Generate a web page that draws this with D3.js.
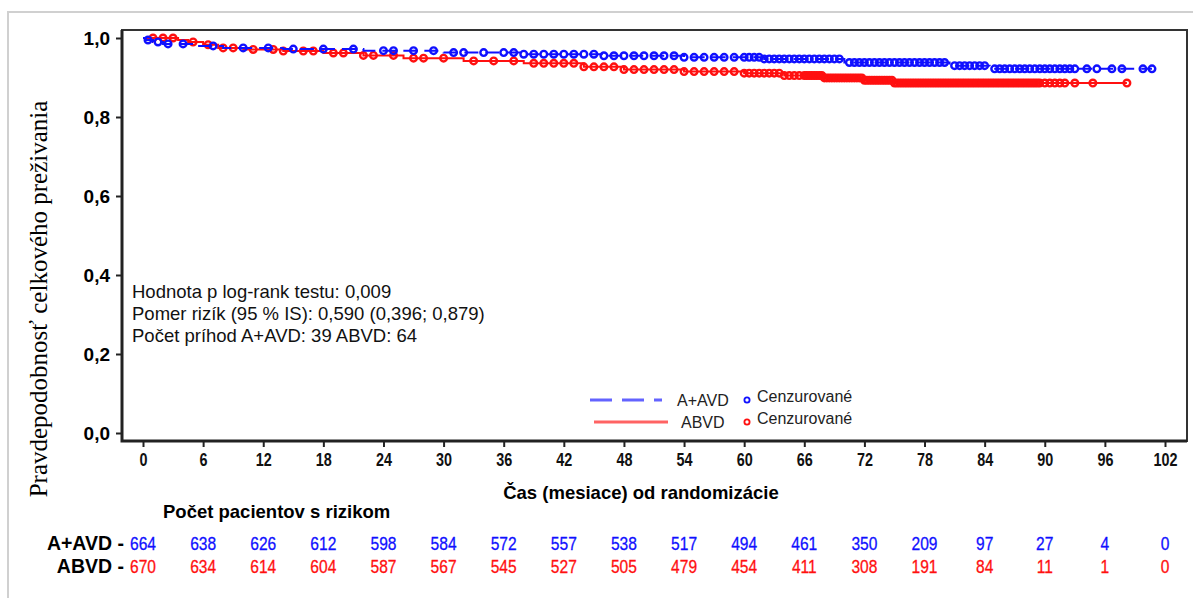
<!DOCTYPE html>
<html>
<head>
<meta charset="utf-8">
<script src="https://cdn.jsdelivr.net/npm/d3@7"></script>
<style>
  body { margin: 0; background: #fff; }
  svg { display: block; }
  text { font-family: Arial, "Liberation Sans", sans-serif; }
</style>
</head>
<body>
<div id="chart"></div>
<script>
// tick values
const xTicks = [0, 6, 12, 18, 24, 30, 36, 42, 48, 54, 60, 66, 72, 78, 84, 90, 96, 102];
const yTicks = [0, 0.2, 0.4, 0.6, 0.8, 1.0];

// KM step points [month, survival]
const aavdSteps = [[0, 1.0], [0.3, 0.995], [1, 0.99], [2, 0.985], [5, 0.98], [8, 0.975], [14, 0.972],
    [22, 0.968], [30, 0.963], [38, 0.959], [46, 0.955], [54, 0.951], [62, 0.947], [70, 0.938],
    [80.5, 0.93], [84.5, 0.922], [100.7, 0.922]];
const abvdSteps = [[0, 1.0], [3.5, 0.995], [4.5, 0.99], [6, 0.983], [7.5, 0.975], [10, 0.971], [14, 0.967],
    [18, 0.962], [22, 0.956], [26, 0.949], [32, 0.942], [38, 0.936], [44, 0.927], [48, 0.92],
    [54, 0.915], [60, 0.911], [64, 0.905], [68, 0.899], [72, 0.893], [75, 0.886], [98.2, 0.886]];

// censored times (months)
const aavdCensor = [0.5, 1.5, 2.5, 4, 7, 10, 12.5, 15, 18, 21, 24, 25, 27, 29, 31, 32, 34, 36, 37, 38,
    39, 40, 41, 42, 43, 44, 45, 46, 47, 48, 49, 50, 51, 52, 53, 54, 55, 56, 57, 58, 59, 60, 60.5,
    61, 61.5, 62, 62.5, 63, 63.5, 64, 64.5, 65, 65.5, 66, 66.5, 67, 67.5, 68, 68.5, 69, 69.5, 70.5,
    71, 71.5, 72, 72.5, 73, 73.5, 74, 74.5, 75, 75.5, 76, 76.5, 77, 77.5, 78, 78.5, 79, 79.5, 80,
    81, 81.5, 82, 82.5, 83, 83.5, 84, 85, 85.5, 86, 86.5, 87, 87.5, 88, 88.5, 89, 89.5, 90, 90.5,
    91, 91.5, 92, 92.5, 93, 94.2, 95.2, 96.7, 97.7, 99.8, 100.7];
const abvdCensor = [1, 2, 3, 5, 6.5, 8, 9, 11, 13, 14, 16, 17, 19, 20, 22, 23, 25, 27, 28, 30, 33, 35,
    37, 39, 40, 41, 42, 43, 44, 45, 46, 47, 48, 49, 50, 51, 52, 53, 54, 55, 56, 57, 58, 59, 60,
    60.5, 61, 61.5, 62, 62.5, 63, 63.5, 64, 64.5, 65, 65.5, 66, 66.5, 67, 67.5, 68, 68.5, 69, 69.5,
    70, 70.5, 71, 71.5, 72, 72.5, 73, 73.5, 74, 74.5, 75, 75.5, 76, 76.5, 77, 77.5, 78, 78.5, 79,
    79.5, 80, 80.5, 81, 81.5, 82, 82.5, 83, 83.5, 84, 84.5, 85, 85.5, 86, 86.5, 87, 87.5, 88, 88.5,
    89, 89.5, 90, 90.5, 91, 91.5, 92, 93, 94.8, 98.2,
    66.25, 66.75, 67.25, 67.75, 68.25, 68.75, 69.25, 69.75, 70.25, 70.75, 71.25, 71.75, 72.25,
    72.75, 73.25, 73.75, 74.25, 74.75, 75.25, 75.75, 76.25, 76.75, 77.25, 77.75, 78.25, 78.75,
    79.25, 79.75, 80.25, 80.75, 81.25, 81.75, 82.25, 82.75, 83.25, 83.75, 84.25, 84.75, 85.25,
    85.75, 86.25, 86.75, 87.25, 87.75, 88.25, 88.75, 89.25];

// numbers at risk
const riskAavd = [664, 638, 626, 612, 598, 584, 572, 557, 538, 517, 494, 461, 350, 209, 97, 27, 4, 0];
const riskAbvd = [670, 634, 614, 604, 587, 567, 545, 527, 505, 479, 454, 411, 308, 191, 84, 11, 1, 0];

const statLines = [
    'Hodnota p log-rank testu: 0,009',
    'Pomer rizík (95 % IS): 0,590 (0,396; 0,879)',
    'Počet príhod A+AVD: 39 ABVD: 64'
];

const BLUE = '#1010ff';
const RED = '#ff1010';

const W = 1193, H = 598;
const svg = d3.select('#chart').append('svg').attr('width', W).attr('height', H);

// outer light frame
svg.append('path')
    .attr('d', `M8,${H} L8,12 L${W},12`)
    .attr('fill', 'none').attr('stroke', '#d0d0d0').attr('stroke-width', 2);

const x = d3.scaleLinear().domain([0, 102]).range([143, 1165]);
const y = d3.scaleLinear().domain([0, 1]).range([433, 38]);

const frame = {left: 122, top: 30, right: 1187, bottom: 441};

// plot frame
svg.append('rect')
    .attr('x', frame.left).attr('y', frame.top)
    .attr('width', frame.right - frame.left).attr('height', frame.bottom - frame.top)
    .attr('fill', 'none').attr('stroke', '#333').attr('stroke-width', 2);
svg.append('path')
    .attr('d', `M${frame.left},${frame.top} V${frame.bottom} H${frame.right}`)
    .attr('fill', 'none').attr('stroke', '#222').attr('stroke-width', 3);

// y axis
const yAxis = svg.append('g').attr('transform', `translate(${frame.left},0)`)
    .call(d3.axisLeft(y).tickValues(yTicks).tickSize(6).tickPadding(6)
        .tickFormat(d => d3.format('.1f')(d).replace('.', ',')));
yAxis.select('.domain').remove();
yAxis.selectAll('line').attr('stroke', '#222').attr('stroke-width', 2);
yAxis.selectAll('text').attr('font-size', 19).attr('font-weight', 'bold')
    .attr('fill', '#000').style('font-family', 'Arial, "Liberation Sans", sans-serif');

// x axis
const xAxis = svg.append('g').attr('transform', `translate(0,${frame.bottom})`)
    .call(d3.axisBottom(x).tickValues(xTicks).tickSize(6).tickPadding(6));
xAxis.select('.domain').remove();
xAxis.selectAll('line').attr('stroke', '#222').attr('stroke-width', 2);
xAxis.selectAll('text').attr('font-size', 18).attr('fill', '#111')
    .attr('font-weight', 'bold')
    .attr('transform', 'scale(0.8,1)')
    .style('font-family', 'Arial, "Liberation Sans", sans-serif');

// axis titles
svg.append('text')
    .attr('transform', 'translate(47,299) rotate(-90)')
    .attr('text-anchor', 'middle')
    .style('font-family', '"Liberation Serif", "Times New Roman", serif')
    .attr('font-size', 25)
    .text('Pravdepodobnosť celkového preživania');
svg.append('text')
    .attr('x', 641).attr('y', 499).attr('text-anchor', 'middle')
    .attr('font-size', 18.5).attr('font-weight', 'bold')
    .text('Čas (mesiace) od randomizácie');

// KM curves
const line = d3.line().x(d => x(d[0])).y(d => y(d[1])).curve(d3.curveStepAfter);
function survAt(steps, t) {
    const i = d3.bisector(d => d[0]).right(steps, t) - 1;
    return steps[Math.max(0, i)][1];
}

function drawArm(steps, censor, color, dash) {
    svg.append('path')
        .attr('d', line(steps))
        .attr('fill', 'none').attr('stroke', color).attr('stroke-width', 2)
        .attr('stroke-dasharray', dash);
    svg.append('g').selectAll('circle').data(censor).join('circle')
        .attr('cx', d => x(d)).attr('cy', d => y(survAt(steps, d)))
        .attr('r', 3.3)
        .attr('fill', 'none').attr('stroke', color).attr('stroke-width', 2.4);
}
drawArm(abvdSteps, abvdCensor, RED, null);
drawArm(aavdSteps, aavdCensor, BLUE, '14,7');

// statistics text
svg.append('g').selectAll('text').data(statLines).join('text')
    .attr('x', 132).attr('y', (d, i) => 298 + i * 22)
    .attr('font-size', 18.5).attr('fill', '#111')
    .text(d => d);

// legend
const legend = [
    {name: 'A+AVD', color: BLUE, dash: '22,10', y: 400, tx: 677},
    {name: 'ABVD', color: RED, dash: null, y: 422, tx: 681}
];
const lg = svg.append('g').selectAll('g').data(legend).join('g');
lg.append('line')
    .attr('x1', d => d.dash ? 590 : 594).attr('x2', d => d.dash ? 662 : 668)
    .attr('y1', d => d.y).attr('y2', d => d.y)
    .attr('stroke', d => d.color).attr('stroke-opacity', 0.65).attr('stroke-width', 3)
    .attr('stroke-dasharray', d => d.dash);
lg.append('text')
    .attr('x', d => d.tx).attr('y', d => d.y + 6)
    .attr('font-size', 16).attr('fill', '#222')
    .text(d => d.name);
lg.append('circle')
    .attr('cx', 747).attr('cy', d => d.y)
    .attr('r', 2.6).attr('fill', 'none')
    .attr('stroke', d => d.color).attr('stroke-width', 1.8);
lg.append('text')
    .attr('x', 757).attr('y', d => d.y + 2)
    .attr('font-size', 16).attr('fill', '#222')
    .text('Cenzurované');

// numbers at risk table
svg.append('text')
    .attr('x', 163).attr('y', 518)
    .attr('font-size', 18.5).attr('font-weight', 'bold')
    .text('Počet pacientov s rizikom');

const rows = [
    {label: 'A+AVD -', vals: riskAavd, color: BLUE, y: 550},
    {label: 'ABVD -', vals: riskAbvd, color: RED, y: 573}
];
rows.forEach(r => {
    svg.append('text')
        .attr('x', 124).attr('y', r.y).attr('text-anchor', 'end')
        .attr('font-size', 19.5).attr('font-weight', 'bold')
        .text(r.label);
    svg.append('g').selectAll('text').data(r.vals).join('text')
        .attr('transform', (d, i) => `translate(${x(xTicks[i])},${r.y}) scale(0.82,1)`)
        .attr('text-anchor', 'middle')
        .attr('font-size', 19).attr('fill', r.color)
        .attr('stroke', r.color).attr('stroke-width', 0.3)
        .text(d => d);
});
</script>
</body>
</html>
